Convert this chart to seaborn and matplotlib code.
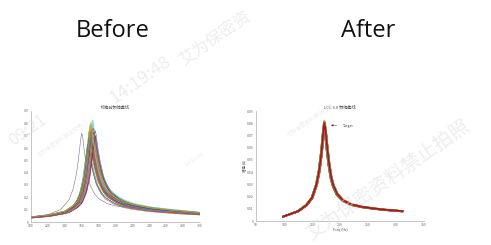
import numpy as np
import pandas as pd
import matplotlib
matplotlib.use("Agg")
import matplotlib.pyplot as plt
import seaborn as sns

sns.set_theme(style="white")
plt.rcParams['font.family'] = ['Noto Sans CJK SC', 'DejaVu Sans']

# ---------------- data ----------------
# "Before": template shape of one measured curve (peak at 170 Hz, normalised to 1)
before_tpl_f = [100, 120, 140, 150, 155, 160, 164, 167, 169, 170, 171, 173, 176, 180,
                185, 190, 200, 210, 220, 240, 260, 280, 300]
before_tpl_y = [0.053, 0.073, 0.113, 0.173, 0.227, 0.347, 0.533, 0.773, 0.947, 1.0, 0.96,
                0.82, 0.66, 0.50, 0.39, 0.32, 0.25, 0.207, 0.18, 0.147, 0.127, 0.111, 0.097]
# peak frequency / peak amplitude of each curve
before_peak_f = [168, 169, 170, 171, 172, 173, 174, 175, 170, 171, 172, 169, 173, 174,
                 176, 168, 170, 172, 171, 173, 175, 169, 170, 172, 174, 171, 173, 170,
                 167, 172, 174, 171, 169, 173, 176, 170, 172, 171]
before_peak_a = [0.62, 0.66, 0.70, 0.74, 0.78, 0.83, 0.76, 0.72, 0.64, 0.68, 0.71, 0.60,
                 0.80, 0.69, 0.74, 0.58, 0.75, 0.65, 0.77, 0.72, 0.67, 0.70, 0.79, 0.62,
                 0.73, 0.81, 0.66, 0.69, 0.63, 0.76, 0.71, 0.64, 0.75, 0.68, 0.70, 0.73,
                 0.61, 0.78]
# outlier curve (earlier, narrower resonance)
outlier_f = [100, 120, 135, 145, 150, 154, 157, 159, 160, 161, 163, 166, 170, 175, 180,
             190, 200, 220, 240, 260, 280, 300]
outlier_y = [0.04, 0.06, 0.10, 0.18, 0.27, 0.40, 0.56, 0.68, 0.72, 0.70, 0.58, 0.42,
             0.30, 0.23, 0.19, 0.15, 0.13, 0.11, 0.095, 0.085, 0.078, 0.07]

# "After": template shape (peak at 172 Hz, normalised to 1)
after_tpl_f = [98, 110, 125, 140, 150, 158, 163, 167, 170, 172, 174, 177, 180, 184, 188,
               195, 205, 220, 240, 260, 280, 300, 312]
after_tpl_y = [0.044, 0.069, 0.10, 0.163, 0.238, 0.375, 0.525, 0.713, 0.90, 1.0, 0.925,
               0.75, 0.60, 0.45, 0.363, 0.275, 0.213, 0.169, 0.144, 0.128, 0.115, 0.106, 0.10]
after_peak_f = [171, 172, 173, 172, 171, 172, 173, 172, 171, 172, 173, 172, 171, 172,
                173, 172, 171, 172, 173, 172, 172, 171, 173, 172, 172, 171, 173, 172]
after_peak_a = [0.0785, 0.080, 0.081, 0.0795, 0.0775, 0.082, 0.079, 0.0805, 0.078,
                0.0815, 0.0790, 0.0800, 0.0770, 0.0810, 0.0798, 0.0788, 0.0803, 0.0792,
                0.0812, 0.0780, 0.0808, 0.0796, 0.0786, 0.0818, 0.0794, 0.0802, 0.0776,
                0.0806]

before_xticks = [100, 120, 140, 160, 180, 200, 220, 240, 260, 280, 300]
before_yticks = [0, 0.1, 0.2, 0.3, 0.4, 0.5, 0.6, 0.7, 0.8, 0.9]
after_xticks = [50, 100, 150, 200, 250, 300, 350]
after_yticks = [0, 0.01, 0.02, 0.03, 0.04, 0.05, 0.06, 0.07, 0.08, 0.09]

matlab = ['#0072BD', '#D95319', '#EDB120', '#7E2F8E', '#77AC30', '#4DBEEE', '#A2142F']
after_cycle = ['#0072BD', '#4DBEEE', '#EDB120', '#7E2F8E', '#77AC30', '#D95319', '#A2142F']


def build(tpl_f, tpl_y, peak_f, peak_a, f_ref):
    rows = []
    for i, (pf, pa) in enumerate(zip(peak_f, peak_a)):
        shift = pf - f_ref
        for j, (f, y) in enumerate(zip(tpl_f, tpl_y)):
            x = f if j in (0, len(tpl_f) - 1) else f + shift
            rows.append((i, x, y * pa))
    return pd.DataFrame(rows, columns=['curve', 'f', 'amp'])


df_before = build(before_tpl_f, before_tpl_y, before_peak_f, before_peak_a, 170)
df_out = pd.DataFrame({'f': outlier_f, 'amp': outlier_y})
df_after = build(after_tpl_f, after_tpl_y, after_peak_f, after_peak_a, 172)

# ---------------- figure ----------------
fig = plt.figure(figsize=(4.91, 2.45), dpi=100)
fig.patch.set_facecolor('white')

ax1 = fig.add_axes([31 / 491, 23 / 245, 169 / 491, 111 / 245])
ax2 = fig.add_axes([256 / 491, 24 / 245, 168 / 491, 110 / 245])

pal_b = [matlab[i % 7] for i in range(len(before_peak_f))]
sns.lineplot(data=df_before, x='f', y='amp', hue='curve', palette=pal_b, legend=False,
             estimator=None, linewidth=0.35, ax=ax1)
sns.lineplot(data=df_out, x='f', y='amp', color='#8a7fa0', estimator=None,
             linewidth=0.45, ax=ax1)

pal_a = [after_cycle[i % 7] for i in range(len(after_peak_f))]
sns.lineplot(data=df_after, x='f', y='amp', hue='curve', palette=pal_a, legend=False,
             estimator=None, linewidth=1.1, ax=ax2)

for ax, xt, yt in [(ax1, before_xticks, before_yticks), (ax2, after_xticks, after_yticks)]:
    ax.set_xlim(xt[0], xt[-1])
    ax.set_ylim(yt[0], yt[-1])
    ax.set_xticks(xt)
    ax.set_yticks(yt)
    ax.set_xticklabels([str(v) for v in xt])
    ax.set_yticklabels([('%g' % v) for v in yt])
    ax.tick_params(labelsize=2.5, colors='#666666', length=1, width=0.3, pad=1.5,
                   direction='in')
    for s in ['top', 'right']:
        ax.spines[s].set_visible(False)
    for s in ['left', 'bottom']:
        ax.spines[s].set_color('#999999')
        ax.spines[s].set_linewidth(0.4)
    ax.set_facecolor('white')
    ax.set_xlabel('')
    ax.set_ylabel('')

ax1.set_title('校准前频响曲线', fontsize=3, color='#444444', pad=2)
ax2.set_title('LCC 3.0 频响曲线', fontsize=3, color='#444444', pad=2)
ax2.set_xlabel('Freq (Hz)', fontsize=2.5, color='#555555', labelpad=1)
ax2.set_ylabel('幅值 (A)', fontsize=2.5, color='#555555', labelpad=1)

ax2.annotate('Target', xy=(179, 0.0785), xytext=(205, 0.0775), fontsize=2.5,
             color='#333333', va='center',
             arrowprops=dict(arrowstyle='-|>', color='#333333', lw=0.3,
                             mutation_scale=3))

fig.text(113 / 491, 1 - 31 / 245, 'Before', fontsize=17, ha='center', va='center',
         family=['Open Sans', 'DejaVu Sans'], color='#111111')
fig.text(368 / 491, 1 - 31 / 245, 'After', fontsize=17, ha='center', va='center',
         family=['Open Sans', 'DejaVu Sans'], color='#111111')

# faint watermark
wm = dict(color='#dcdcdc', alpha=0.5, ha='center', va='center', rotation=35)
fig.text(215 / 491, 1 - 38 / 245, '艾为保密资', fontsize=12, **wm)
fig.text(140 / 491, 1 - 80 / 245, '14:19:48', fontsize=13, **wm)
fig.text(28 / 491, 1 - 130 / 245, '09:21', fontsize=12, **wm)
fig.text(388 / 491, 1 - 180 / 245, '艾为保密资料禁止拍照', fontsize=14, **wm)
fig.text(60 / 491, 1 - 140 / 245, '艾为保密资料禁止拍照', fontsize=4, **wm)
fig.text(195 / 491, 1 - 160 / 245, '14:19:48', fontsize=4, **wm)
fig.text(310 / 491, 1 - 120 / 245, '艾为保密资料禁止拍照', fontsize=4, **wm)

fig.savefig('out.png', dpi=100, facecolor='white')
